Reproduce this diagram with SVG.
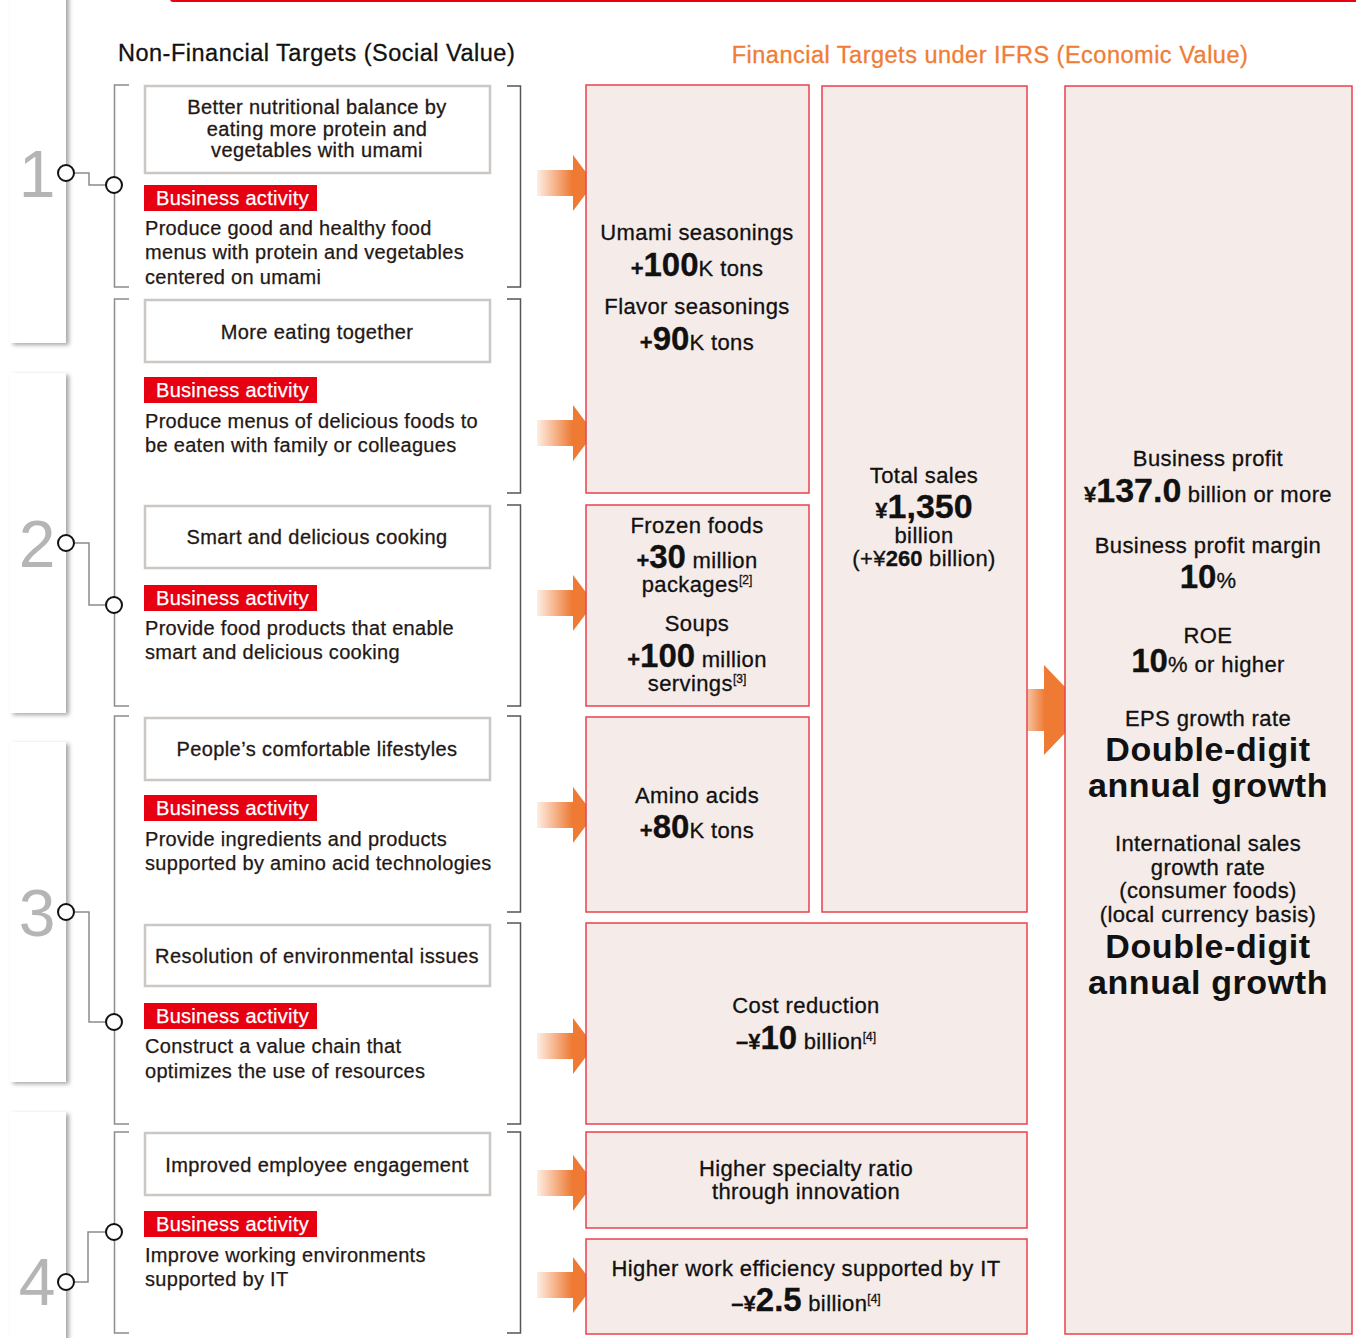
<svg xmlns="http://www.w3.org/2000/svg" width="1356" height="1338" viewBox="0 0 1356 1338">
  <style>
    text { font-family: "Liberation Sans", Arial, sans-serif; fill: #1a1a1a; }
    .h1 { font-size: 23.5px; letter-spacing: 0.5px; fill: #111111; stroke: #111111; stroke-width: 0.3px; }
    .h2 { font-size: 23.5px; letter-spacing: 0.5px; fill: #ef7d35; stroke: #ef7d35; stroke-width: 0.3px; }
    .num { font-size: 66px; fill: #b5b5b5; }
    .tab { fill: #ffffff; filter: url(#shadow); }
    .goal { fill: #ffffff; stroke: #cbc7c4; stroke-width: 2.5; }
    .goal-t { font-size: 20px; letter-spacing: 0.4px; fill: #231815; text-anchor: middle; stroke: #231815; stroke-width: 0.3px; }
    .ba { fill: #e60012; }
    .ba-t { font-size: 20px; letter-spacing: 0.3px; fill: #ffffff; stroke: #ffffff; stroke-width: 0.25px; }
    .desc { font-size: 20px; letter-spacing: 0.3px; fill: #231815; stroke: #231815; stroke-width: 0.25px; }
    .lbr { fill: none; stroke: #8c8c8c; stroke-width: 1.5; }
    .rbr { fill: none; stroke: #555555; stroke-width: 1.5; }
    .dot { fill: #ffffff; stroke: #111111; stroke-width: 2; }
    .link { fill: none; stroke: #8c8c8c; stroke-width: 1.5; }
    .fin { fill: #f5ebe8; stroke: #e9424c; stroke-width: 1.5; }
    .ft { font-size: 22px; letter-spacing: 0.4px; text-anchor: middle; fill: #111111; stroke: #111111; stroke-width: 0.3px; }
    .big { font-weight: 700; letter-spacing: 0; }
    .sup { font-size: 12px; letter-spacing: 0; }
    .dd { font-size: 34px; font-weight: 700; text-anchor: middle; fill: #111111; letter-spacing: 0.6px; }
    .arr { fill: url(#arrowGrad); }
    .arrBig { fill: url(#arrowGradBig); }
  </style>
  <defs>
    <filter id="shadow" x="-30%" y="-5%" width="170%" height="115%">
      <feDropShadow dx="3" dy="2" stdDeviation="2" flood-color="#000000" flood-opacity="0.35"/>
    </filter>
    <linearGradient id="arrowGrad" x1="0" y1="0" x2="1" y2="0">
      <stop offset="0" stop-color="#fdeee5"/>
      <stop offset="0.62" stop-color="#ee7a33"/>
      <stop offset="1" stop-color="#ee7a33"/>
    </linearGradient>
    <linearGradient id="arrowGradBig" x1="0" y1="0" x2="1" y2="0">
      <stop offset="0" stop-color="#f7c4a3"/>
      <stop offset="0.3" stop-color="#ee7a33"/>
      <stop offset="1" stop-color="#ee7a33"/>
    </linearGradient>
  </defs>

  <rect width="1356" height="1338" fill="#ffffff"/>

  <!-- top rule -->
  <rect x="170" y="-4" width="1200" height="6" rx="3" fill="#e60012"/>

  <!-- headings -->
  <text class="h1" x="118" y="61">Non-Financial Targets (Social Value)</text>
  <text class="h2" x="990" y="63" text-anchor="middle">Financial Targets under IFRS (Economic Value)</text>

  <!-- numbered tabs -->
  <g id="tab1"><rect class="tab" x="10" y="-10" width="56" height="353"/><text class="num" x="37" y="197" text-anchor="middle">1</text></g>
  <g id="tab2"><rect class="tab" x="10" y="373" width="56" height="340"/><text class="num" x="37" y="567" text-anchor="middle">2</text></g>
  <g id="tab3"><rect class="tab" x="10" y="742" width="56" height="340"/><text class="num" x="37" y="936" text-anchor="middle">3</text></g>
  <g id="tab4"><rect class="tab" x="10" y="1112" width="56" height="240"/><text class="num" x="37" y="1305" text-anchor="middle">4</text></g>

  <!-- connectors: brackets, links and arrows -->
  <g id="connectors">
    <path class="lbr" d="M129 85 H114.5 V287 H129"/>
    <path class="lbr" d="M129 299 H114.5 V706 H129"/>
    <path class="lbr" d="M129 716 H114.5 V1124 H129"/>
    <path class="lbr" d="M129 1132 H114.5 V1333 H129"/>

    <path class="rbr" d="M507 86 H520.5 V287 H507"/>
    <path class="rbr" d="M507 299 H520.5 V493 H507"/>
    <path class="rbr" d="M507 505 H520.5 V706 H507"/>
    <path class="rbr" d="M507 716 H520.5 V912 H507"/>
    <path class="rbr" d="M507 923 H520.5 V1124 H507"/>
    <path class="rbr" d="M507 1132 H520.5 V1333 H507"/>

    <path class="link" d="M74 173 H89 V185 H106"/>
    <path class="link" d="M74 543 H89 V605 H106"/>
    <path class="link" d="M74 912 H89 V1022 H106"/>
    <path class="link" d="M74 1282 H88 V1232 H106"/>
    <circle class="dot" cx="66" cy="173" r="8"/><circle class="dot" cx="114" cy="185" r="8"/>
    <circle class="dot" cx="66" cy="543" r="8"/><circle class="dot" cx="114" cy="605" r="8"/>
    <circle class="dot" cx="66" cy="912" r="8"/><circle class="dot" cx="114" cy="1022" r="8"/>
    <circle class="dot" cx="66" cy="1282" r="8"/><circle class="dot" cx="114" cy="1232" r="8"/>

    <path class="arr" d="M537 170 H573 V155 L594 183 L573 211 V196 H537 Z"/>
    <path class="arr" d="M537 420 H573 V405 L594 433 L573 461 V446 H537 Z"/>
    <path class="arr" d="M537 590 H573 V575 L594 603 L573 631 V616 H537 Z"/>
    <path class="arr" d="M537 802 H573 V787 L594 815 L573 843 V828 H537 Z"/>
    <path class="arr" d="M537 1033 H573 V1018 L594 1046 L573 1074 V1059 H537 Z"/>
    <path class="arr" d="M537 1170 H573 V1155 L594 1183 L573 1211 V1196 H537 Z"/>
    <path class="arr" d="M537 1272 H573 V1257 L594 1285 L573 1313 V1298 H537 Z"/>
    <path class="arrBig" d="M1027 689 H1044 V665 L1087 710 L1044 755 V731 H1027 Z"/>
  </g>

  <!-- social value targets -->
  <g id="goal-nutrition">
    <rect class="goal" x="145" y="86" width="345" height="87"/>
    <text class="goal-t" x="317" y="114">Better nutritional balance by</text>
    <text class="goal-t" x="317" y="136">eating more protein and</text>
    <text class="goal-t" x="317" y="157">vegetables with umami</text>
    <rect class="ba" x="144" y="185" width="173" height="26"/>
    <text class="ba-t" x="156" y="205">Business activity</text>
    <text class="desc" x="145" y="235">Produce good and healthy food</text>
    <text class="desc" x="145" y="259">menus with protein and vegetables</text>
    <text class="desc" x="145" y="284">centered on umami</text>
  </g>
  <g id="goal-together">
    <rect class="goal" x="145" y="300" width="345" height="62"/>
    <text class="goal-t" x="317" y="339">More eating together</text>
    <rect class="ba" x="144" y="377" width="173" height="26"/>
    <text class="ba-t" x="156" y="397">Business activity</text>
    <text class="desc" x="145" y="428">Produce menus of delicious foods to</text>
    <text class="desc" x="145" y="452">be eaten with family or colleagues</text>
  </g>
  <g id="goal-cooking">
    <rect class="goal" x="145" y="506" width="345" height="62"/>
    <text class="goal-t" x="317" y="544">Smart and delicious cooking</text>
    <rect class="ba" x="144" y="585" width="173" height="26"/>
    <text class="ba-t" x="156" y="605">Business activity</text>
    <text class="desc" x="145" y="635">Provide food products that enable</text>
    <text class="desc" x="145" y="659">smart and delicious cooking</text>
  </g>
  <g id="goal-lifestyles">
    <rect class="goal" x="145" y="718" width="345" height="62"/>
    <text class="goal-t" x="317" y="756">People’s comfortable lifestyles</text>
    <rect class="ba" x="144" y="795" width="173" height="26"/>
    <text class="ba-t" x="156" y="815">Business activity</text>
    <text class="desc" x="145" y="846">Provide ingredients and products</text>
    <text class="desc" x="145" y="870">supported by amino acid technologies</text>
  </g>
  <g id="goal-environment">
    <rect class="goal" x="145" y="925" width="345" height="61"/>
    <text class="goal-t" x="317" y="963">Resolution of environmental issues</text>
    <rect class="ba" x="144" y="1003" width="173" height="26"/>
    <text class="ba-t" x="156" y="1023">Business activity</text>
    <text class="desc" x="145" y="1053">Construct a value chain that</text>
    <text class="desc" x="145" y="1078">optimizes the use of resources</text>
  </g>
  <g id="goal-engagement">
    <rect class="goal" x="145" y="1133" width="345" height="62"/>
    <text class="goal-t" x="317" y="1172">Improved employee engagement</text>
    <rect class="ba" x="144" y="1211" width="173" height="26"/>
    <text class="ba-t" x="156" y="1231">Business activity</text>
    <text class="desc" x="145" y="1262">Improve working environments</text>
    <text class="desc" x="145" y="1286">supported by IT</text>
  </g>

  <!-- economic value targets -->
  <g id="fin-seasonings">
    <rect class="fin" x="586" y="85" width="223" height="408"/>
    <text class="ft" x="697" y="240">Umami seasonings</text>
    <text class="ft" x="697" y="276"><tspan class="big">+</tspan><tspan class="big" font-size="33">100</tspan>K tons</text>
    <text class="ft" x="697" y="314">Flavor seasonings</text>
    <text class="ft" x="697" y="350"><tspan class="big">+</tspan><tspan class="big" font-size="33">90</tspan>K tons</text>
  </g>
  <g id="fin-frozen">
    <rect class="fin" x="586" y="505" width="223" height="201"/>
    <text class="ft" x="697" y="533">Frozen foods</text>
    <text class="ft" x="697" y="568"><tspan class="big">+</tspan><tspan class="big" font-size="33">30</tspan> million</text>
    <text class="ft" x="697" y="592">packages<tspan class="sup" dy="-8">[2]</tspan></text>
    <text class="ft" x="697" y="631">Soups</text>
    <text class="ft" x="697" y="667"><tspan class="big">+</tspan><tspan class="big" font-size="33">100</tspan> million</text>
    <text class="ft" x="697" y="691">servings<tspan class="sup" dy="-8">[3]</tspan></text>
  </g>
  <g id="fin-amino">
    <rect class="fin" x="586" y="717" width="223" height="195"/>
    <text class="ft" x="697" y="803">Amino acids</text>
    <text class="ft" x="697" y="838"><tspan class="big">+</tspan><tspan class="big" font-size="33">80</tspan>K tons</text>
  </g>
  <g id="fin-sales">
    <rect class="fin" x="822" y="86" width="205" height="826"/>
    <text class="ft" x="924" y="483">Total sales</text>
    <text class="ft" x="924" y="518"><tspan class="big">¥</tspan><tspan class="big" font-size="34">1,350</tspan></text>
    <text class="ft" x="924" y="543">billion</text>
    <text class="ft" x="924" y="566">(+¥<tspan class="big">260</tspan> billion)</text>
  </g>
  <g id="fin-cost">
    <rect class="fin" x="586" y="923" width="441" height="201"/>
    <text class="ft" x="806" y="1013">Cost reduction</text>
    <text class="ft" x="806" y="1049"><tspan class="big">–¥</tspan><tspan class="big" font-size="33">10</tspan> billion<tspan class="sup" dy="-8">[4]</tspan></text>
  </g>
  <g id="fin-specialty">
    <rect class="fin" x="586" y="1132" width="441" height="96"/>
    <text class="ft" x="806" y="1176">Higher specialty ratio</text>
    <text class="ft" x="806" y="1199">through innovation</text>
  </g>
  <g id="fin-it">
    <rect class="fin" x="586" y="1239" width="441" height="95"/>
    <text class="ft" x="806" y="1276">Higher work efficiency supported by IT</text>
    <text class="ft" x="806" y="1311"><tspan class="big">–¥</tspan><tspan class="big" font-size="33">2.5</tspan> billion<tspan class="sup" dy="-8">[4]</tspan></text>
  </g>
  <g id="fin-profit">
    <rect class="fin" x="1065" y="86" width="287" height="1248"/>
    <text class="ft" x="1208" y="466">Business profit</text>
    <text class="ft" x="1208" y="502"><tspan class="big">¥</tspan><tspan class="big" font-size="34">137.0</tspan> billion or more</text>
    <text class="ft" x="1208" y="553">Business profit margin</text>
    <text class="ft" x="1208" y="588"><tspan class="big" font-size="33">10</tspan>%</text>
    <text class="ft" x="1208" y="643">ROE</text>
    <text class="ft" x="1208" y="672"><tspan class="big" font-size="33">10</tspan>% or higher</text>
    <text class="ft" x="1208" y="726">EPS growth rate</text>
    <text class="dd" x="1208" y="761">Double-digit</text>
    <text class="dd" x="1208" y="797">annual growth</text>
    <text class="ft" x="1208" y="851">International sales</text>
    <text class="ft" x="1208" y="875">growth rate</text>
    <text class="ft" x="1208" y="898">(consumer foods)</text>
    <text class="ft" x="1208" y="922">(local currency basis)</text>
    <text class="dd" x="1208" y="958">Double-digit</text>
    <text class="dd" x="1208" y="994">annual growth</text>
  </g>
</svg>
